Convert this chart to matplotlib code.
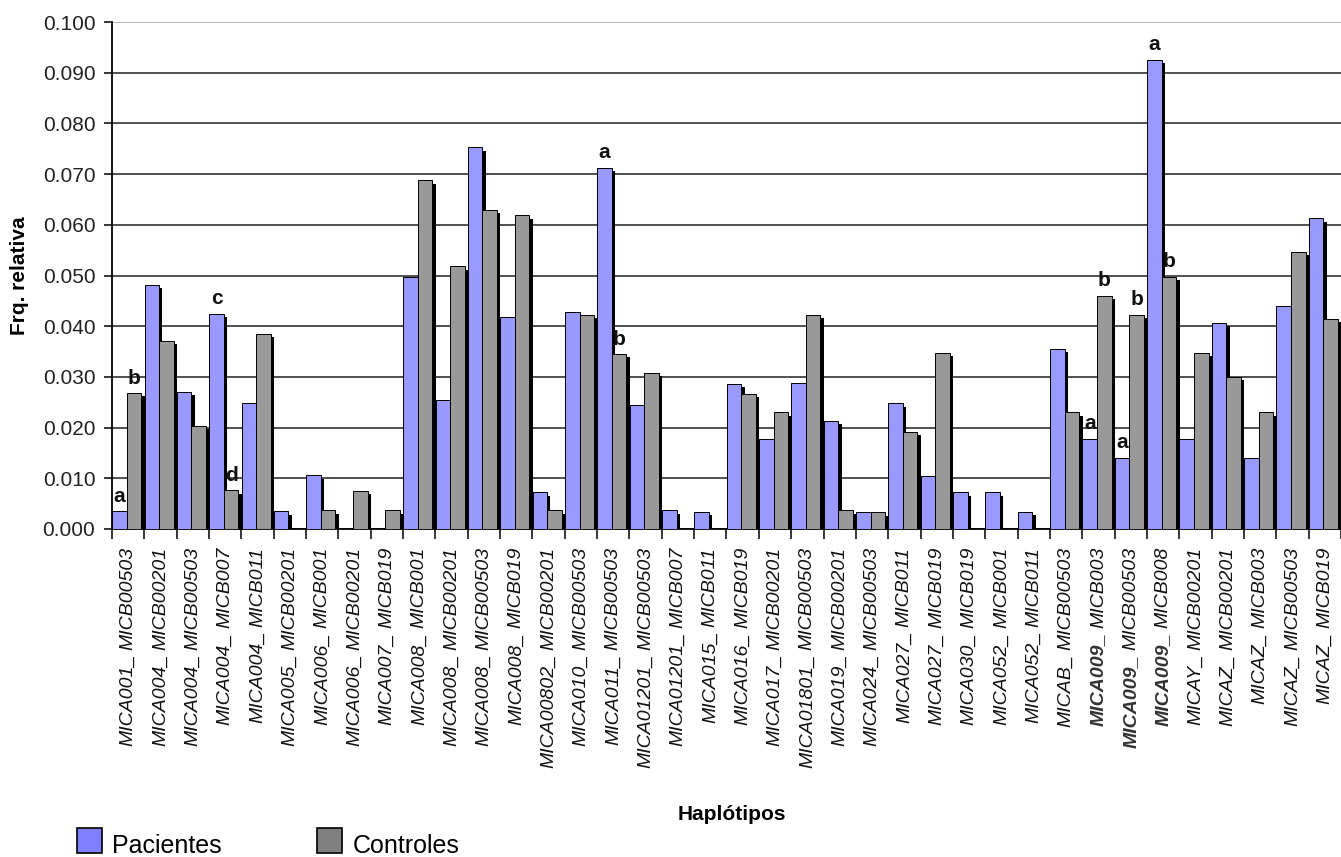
import numpy as np
import matplotlib.pyplot as plt
import matplotlib.patheffects as pe
from matplotlib.patches import Rectangle


## dados

mica = ['MICA001', 'MICA004', 'MICA004', 'MICA004', 'MICA004', 'MICA005', 'MICA006', 'MICA006',
        'MICA007', 'MICA008', 'MICA008', 'MICA008', 'MICA008', 'MICA00802', 'MICA010', 'MICA011',
        'MICA01201', 'MICA01201', 'MICA015', 'MICA016', 'MICA017', 'MICA01801', 'MICA019', 'MICA024',
        'MICA027', 'MICA027', 'MICA030', 'MICA052', 'MICA052', 'MICAB', 'MICA009', 'MICA009',
        'MICA009', 'MICAY', 'MICAZ', 'MICAZ', 'MICAZ', 'MICAZ']
micb = ['MICB00503', 'MICB00201', 'MICB00503', 'MICB007', 'MICB011', 'MICB00201', 'MICB001', 'MICB00201',
        'MICB019', 'MICB001', 'MICB00201', 'MICB00503', 'MICB019', 'MICB00201', 'MICB00503', 'MICB00503',
        'MICB00503', 'MICB007', 'MICB011', 'MICB019', 'MICB00201', 'MICB00503', 'MICB00201', 'MICB00503',
        'MICB011', 'MICB019', 'MICB019', 'MICB001', 'MICB011', 'MICB00503', 'MICB003', 'MICB00503',
        'MICB008', 'MICB00201', 'MICB00201', 'MICB003', 'MICB00503', 'MICB019']

pacientes = [0.0035, 0.0481, 0.0270, 0.0425, 0.0248, 0.0035, 0.0106, 0.0, 0.0, 0.0498,
             0.0254, 0.0753, 0.0418, 0.0072, 0.0428, 0.0712, 0.0245, 0.0037, 0.0034, 0.0286,
             0.0178, 0.0287, 0.0213, 0.0034, 0.0248, 0.0105, 0.0072, 0.0072, 0.0034, 0.0355,
             0.0178, 0.0140, 0.0925, 0.0178, 0.0406, 0.0140, 0.0440, 0.0613]
controles = [0.0268, 0.0371, 0.0204, 0.0076, 0.0385, 0.0, 0.0037, 0.0075, 0.0037, 0.0688,
             0.0518, 0.0629, 0.0619, 0.0037, 0.0422, 0.0345, 0.0308, 0.0, 0.0, 0.0266,
             0.0230, 0.0422, 0.0037, 0.0033, 0.0191, 0.0347, 0.0, 0.0, 0.0, 0.0230,
             0.0460, 0.0422, 0.0498, 0.0347, 0.0300, 0.0230, 0.0547, 0.0414]

# letras de significancia
letras_pac = {0: 'a', 3: 'c', 15: 'a', 30: 'a', 31: 'a', 32: 'a'}
letras_con = {0: 'b', 3: 'd', 15: 'b', 30: 'b', 31: 'b', 32: 'b'}

destaque = 'MICA009'


## figura

plt.rcParams['font.family'] = ['Liberation Sans', 'DejaVu Sans']

W, H = 1341, 857
fig = plt.figure(figsize=(W / 100, H / 100), dpi=100)
ax = fig.add_axes([112 / W, 328 / H, 1229 / W, 507 / H])

x = np.arange(len(mica))
larg = 0.45
sombra = [pe.SimplePatchShadow(offset=(2.4, -2.4), shadow_rgbFace='black', alpha=1.0), pe.Normal()]

b_pac = ax.bar(x - 0.27, pacientes, larg, color='#9999ff', edgecolor='black', lw=0.7, zorder=3)
b_con = ax.bar(x + 0.18, controles, larg, color='#999999', edgecolor='black', lw=0.7, zorder=3)
for b in list(b_pac) + list(b_con):
    if b.get_height() == 0:
        b.set_visible(False)  # sem frequencia, sem barra
    else:
        b.set_path_effects(sombra)

for i, l in letras_pac.items():
    ax.annotate(l, (x[i] - 0.27, pacientes[i]), xytext=(0, 4), textcoords='offset points',
                ha='center', va='bottom', fontsize=15, fontweight='bold', color='#111111', zorder=5)
for i, l in letras_con.items():
    ax.annotate(l, (x[i] + 0.18, controles[i]), xytext=(0, 4), textcoords='offset points',
                ha='center', va='bottom', fontsize=15, fontweight='bold', color='#111111', zorder=5)

ax.set_xlim(-0.5, -0.5 + 1229 / 32.63)
ax.set_ylim(0, 0.1)
ax.set_yticks(np.arange(0, 0.1001, 0.01))
ax.yaxis.set_major_formatter(plt.FormatStrFormatter('%.3f'))
ax.yaxis.grid(True, color='#202020', lw=1.1, zorder=0)
ax.set_axisbelow(True)
ax.get_ygridlines()[-1].set_color('#a0a0a0')

ax.set_xticks(x)
ax.set_xticklabels([])
ax.set_xticks(np.arange(len(mica) + 1) - 0.5, minor=True)
ax.tick_params(axis='x', which='major', length=0)
ax.tick_params(axis='x', which='minor', length=7, width=1.1, direction='out')
ax.tick_params(axis='y', length=6, width=1.1, direction='out', labelsize=15,
               labelcolor='#222222', pad=6)

for s in ['top', 'right']:
    ax.spines[s].set_visible(False)
ax.spines['left'].set_linewidth(1.3)
ax.spines['bottom'].set_linewidth(1.3)


## rotulos do eixo x (MICB em cima, MICA em baixo)

fig.canvas.draw()
r = fig.canvas.get_renderer()
for i in range(len(mica)):
    t = ax.annotate(micb[i], xy=(x[i], 0), xycoords=('data', 'axes fraction'),
                    xytext=(0, -18), textcoords='offset pixels', rotation=90,
                    ha='center', va='top', fontsize=14, style='italic', color='#111111')
    h = t.get_window_extent(r).height
    peso = 'bold' if mica[i] == destaque else 'normal'
    cor = '#333333' if mica[i] == destaque else '#111111'
    ax.annotate(mica[i] + '_', xy=(x[i], 0), xycoords=('data', 'axes fraction'),
                xytext=(0, -18 - h - 4), textcoords='offset pixels', rotation=90,
                ha='center', va='top', fontsize=14, style='italic', fontweight=peso, color=cor)

fig.text(20 / W, 1 - 276 / H, 'Frq. relativa', rotation=90, ha='center', va='center',
         fontsize=15, fontweight='bold')
fig.text(732 / W, 1 - 815 / H, 'Haplótipos', ha='center', va='center',
         fontsize=15, fontweight='bold')


## legenda

fig.add_artist(Rectangle((77 / W, 4 / H), 25 / W, 25 / H, transform=fig.transFigure,
                         facecolor='#7f7fff', edgecolor='black', lw=1.2))
fig.text(112 / W, 4 / H, 'Pacientes', ha='left', va='baseline', fontsize=18)
fig.add_artist(Rectangle((317 / W, 4 / H), 25 / W, 25 / H, transform=fig.transFigure,
                         facecolor='#808080', edgecolor='black', lw=1.2))
fig.text(353 / W, 4 / H, 'Controles', ha='left', va='baseline', fontsize=18)

fig.savefig('out.png', dpi=100)
